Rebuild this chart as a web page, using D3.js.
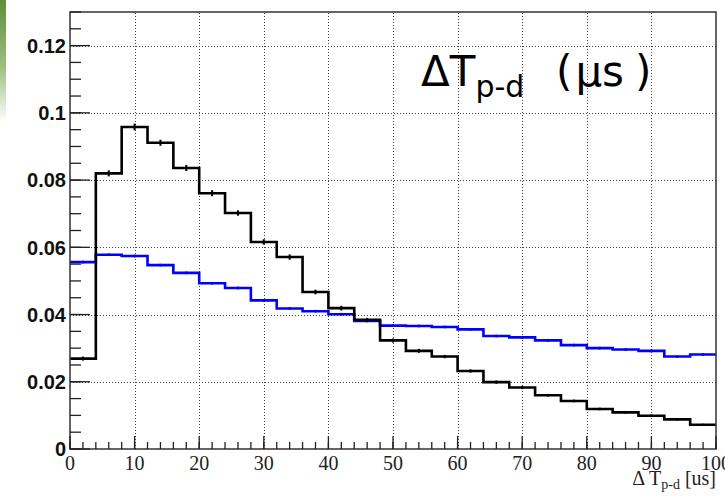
<!DOCTYPE html>
<html>
<head>
<meta charset="utf-8">
<script src="https://cdn.jsdelivr.net/npm/d3@7"></script>
<style>
  html, body { margin: 0; padding: 0; background: #fff; }
  svg { display: block; }
</style>
</head>
<body>
<svg id="chart" width="725" height="498"></svg>
<script>
// Histogram binning: 25 bins of 4 us from 0 to 100
const binEdges = d3.range(0, 101, 4);

// Black histogram: bin contents and errors
const blackValues = [0.0269, 0.0820, 0.0958, 0.0911, 0.0836, 0.0761, 0.0702, 0.0616, 0.0571, 0.0467,
                     0.0419, 0.0384, 0.0323, 0.0292, 0.0275, 0.0232, 0.0199, 0.0183, 0.0160, 0.0143,
                     0.0119, 0.0109, 0.0099, 0.0088, 0.0072];
const blackErrors = [0.0006, 0.0009, 0.0010, 0.0009, 0.0009, 0.0009, 0.0008, 0.0008, 0.0008, 0.0007,
                     0.0007, 0.0006, 0.0006, 0.0006, 0.0005, 0.0005, 0.0005, 0.0005, 0.0004, 0.0004,
                     0.0004, 0.0004, 0.0004, 0.0004, 0.0003];

// Blue histogram: bin contents and errors
const blueValues = [0.0556, 0.0578, 0.0574, 0.0547, 0.0524, 0.0493, 0.0479, 0.0442, 0.0418, 0.0410,
                    0.0401, 0.0381, 0.0367, 0.0366, 0.0363, 0.0356, 0.0336, 0.0332, 0.0323, 0.0309,
                    0.0300, 0.0296, 0.0292, 0.0275, 0.0281];
const blueErrors = d3.range(25).map(() => 0.0004);

// Axis ticks
const xMajorTicks = [0, 10, 20, 30, 40, 50, 60, 70, 80, 90, 100];
const xMinorTicks = d3.range(0, 101, 2);
const yMajorTicks = [0, 0.02, 0.04, 0.06, 0.08, 0.1, 0.12];
const yMinorTicks = d3.range(0, 0.1301, 0.005);
const yTickLabels = ["0", "0.02", "0.04", "0.06", "0.08", "0.1", "0.12"];

const svg = d3.select("#chart");
const W = 725, H = 498;
const margin = { left: 70, right: 9, top: 12, bottom: 49 };

const x = d3.scaleLinear().domain([0, 100]).range([margin.left, W - margin.right]);
const y = d3.scaleLinear().domain([0, 0.13]).range([H - margin.bottom, margin.top]);

// Faded green strip at the top-left edge
const defs = svg.append("defs");
const grad = defs.append("linearGradient").attr("id", "edgeGreen")
  .attr("x1", 0).attr("y1", 0).attr("x2", 0).attr("y2", 1);
grad.append("stop").attr("offset", "0%").attr("stop-color", "#5f8f38");
grad.append("stop").attr("offset", "55%").attr("stop-color", "#9dbf80");
grad.append("stop").attr("offset", "100%").attr("stop-color", "#ffffff");
svg.append("rect").attr("x", 0).attr("y", 0).attr("width", 6).attr("height", 122)
  .attr("fill", "url(#edgeGreen)");

// Dotted grid
const grid = svg.append("g").attr("stroke", "#444").attr("stroke-width", 1)
  .attr("stroke-dasharray", "1,2");
grid.selectAll("line.gx").data(xMajorTicks.slice(1, -1)).join("line")
  .attr("x1", d => Math.round(x(d)) + 0.5).attr("x2", d => Math.round(x(d)) + 0.5)
  .attr("y1", y(0)).attr("y2", y(0.13));
grid.selectAll("line.gy").data(yMajorTicks.slice(1)).join("line")
  .attr("y1", d => Math.round(y(d)) + 0.5).attr("y2", d => Math.round(y(d)) + 0.5)
  .attr("x1", x(0)).attr("x2", x(100));

// Step path through the bins
function stepPoints(vals) {
  const pts = [];
  vals.forEach((v, i) => {
    pts.push([binEdges[i], v]);
    pts.push([binEdges[i + 1], v]);
  });
  return pts;
}
const line = d3.line().x(d => x(d[0])).y(d => y(d[1]));

function drawHist(vals, errs, color) {
  const g = svg.append("g");
  g.append("path").datum(stepPoints(vals)).attr("d", line)
    .attr("fill", "none").attr("stroke", color).attr("stroke-width", 2.6)
    .attr("stroke-linejoin", "miter");
  g.selectAll("line.err").data(vals).join("line")
    .attr("x1", (d, i) => x((binEdges[i] + binEdges[i + 1]) / 2))
    .attr("x2", (d, i) => x((binEdges[i] + binEdges[i + 1]) / 2))
    .attr("y1", (d, i) => y(d - errs[i]))
    .attr("y2", (d, i) => y(d + errs[i]))
    .attr("stroke", color).attr("stroke-width", 2);
}
drawHist(blueValues, blueErrors, "#0000ff");
drawHist(blackValues, blackErrors, "#000000");

// Frame
svg.append("rect").attr("x", x(0)).attr("y", y(0.13))
  .attr("width", x(100) - x(0)).attr("height", y(0) - y(0.13))
  .attr("fill", "none").attr("stroke", "#333").attr("stroke-width", 1.5);

// Y axis ticks (pointing inward)
const yAxisG = svg.append("g").attr("stroke", "#222").attr("stroke-width", 1.3);
yAxisG.selectAll("line.minor").data(yMinorTicks).join("line")
  .attr("x1", x(0)).attr("x2", x(0) + 11)
  .attr("y1", d => y(d)).attr("y2", d => y(d));
yAxisG.selectAll("line.major").data(yMajorTicks).join("line")
  .attr("x1", x(0)).attr("x2", x(0) + 20)
  .attr("y1", d => y(d)).attr("y2", d => y(d));

svg.append("g").selectAll("text").data(yMajorTicks).join("text")
  .attr("x", x(0) - 4).attr("y", d => y(d)).attr("dy", "0.36em")
  .attr("text-anchor", "end")
  .attr("font-family", "'Liberation Sans', Arial, sans-serif")
  .attr("font-weight", "bold").attr("font-size", 20).attr("fill", "#111")
  .text((d, i) => yTickLabels[i]);

// X axis ticks (pointing inward)
const xAxisG = svg.append("g").attr("stroke", "#222").attr("stroke-width", 1.3);
xAxisG.selectAll("line.minor").data(xMinorTicks).join("line")
  .attr("x1", d => x(d)).attr("x2", d => x(d))
  .attr("y1", y(0)).attr("y2", y(0) - 7);
xAxisG.selectAll("line.major").data(xMajorTicks).join("line")
  .attr("x1", d => x(d)).attr("x2", d => x(d))
  .attr("y1", y(0)).attr("y2", y(0) - 13);

svg.append("g").selectAll("text").data(xMajorTicks).join("text")
  .attr("x", d => x(d)).attr("y", y(0) + 21)
  .attr("text-anchor", "middle")
  .attr("font-family", "'Liberation Serif', 'Times New Roman', serif")
  .attr("font-size", 20).attr("fill", "#222")
  .text(d => d);

// X axis title
const xt = svg.append("text").attr("x", x(100)).attr("y", 485)
  .attr("text-anchor", "end")
  .attr("font-family", "'Liberation Serif', 'Times New Roman', serif")
  .attr("font-size", 20).attr("fill", "#222");
xt.append("tspan").text("\u0394 T");
xt.append("tspan").attr("font-size", 14).attr("dy", 4).text("p-d");
xt.append("tspan").attr("dy", -4).text(" [us]");

// Title inside the frame
const tt = svg.append("text").attr("x", 421).attr("y", 86)
  .attr("font-family", "'DejaVu Sans', Verdana, sans-serif")
  .attr("font-size", 42).attr("fill", "#000");
tt.append("tspan").text("\u0394T");
tt.append("tspan").attr("font-size", 30).attr("dy", 11).text("p-d");
tt.append("tspan").attr("x", 556).attr("dy", -11).text("(");
tt.append("tspan").attr("dx", 3).text("\u03bcs");
tt.append("tspan").attr("dx", 11).text(")");
</script>
</body>
</html>
